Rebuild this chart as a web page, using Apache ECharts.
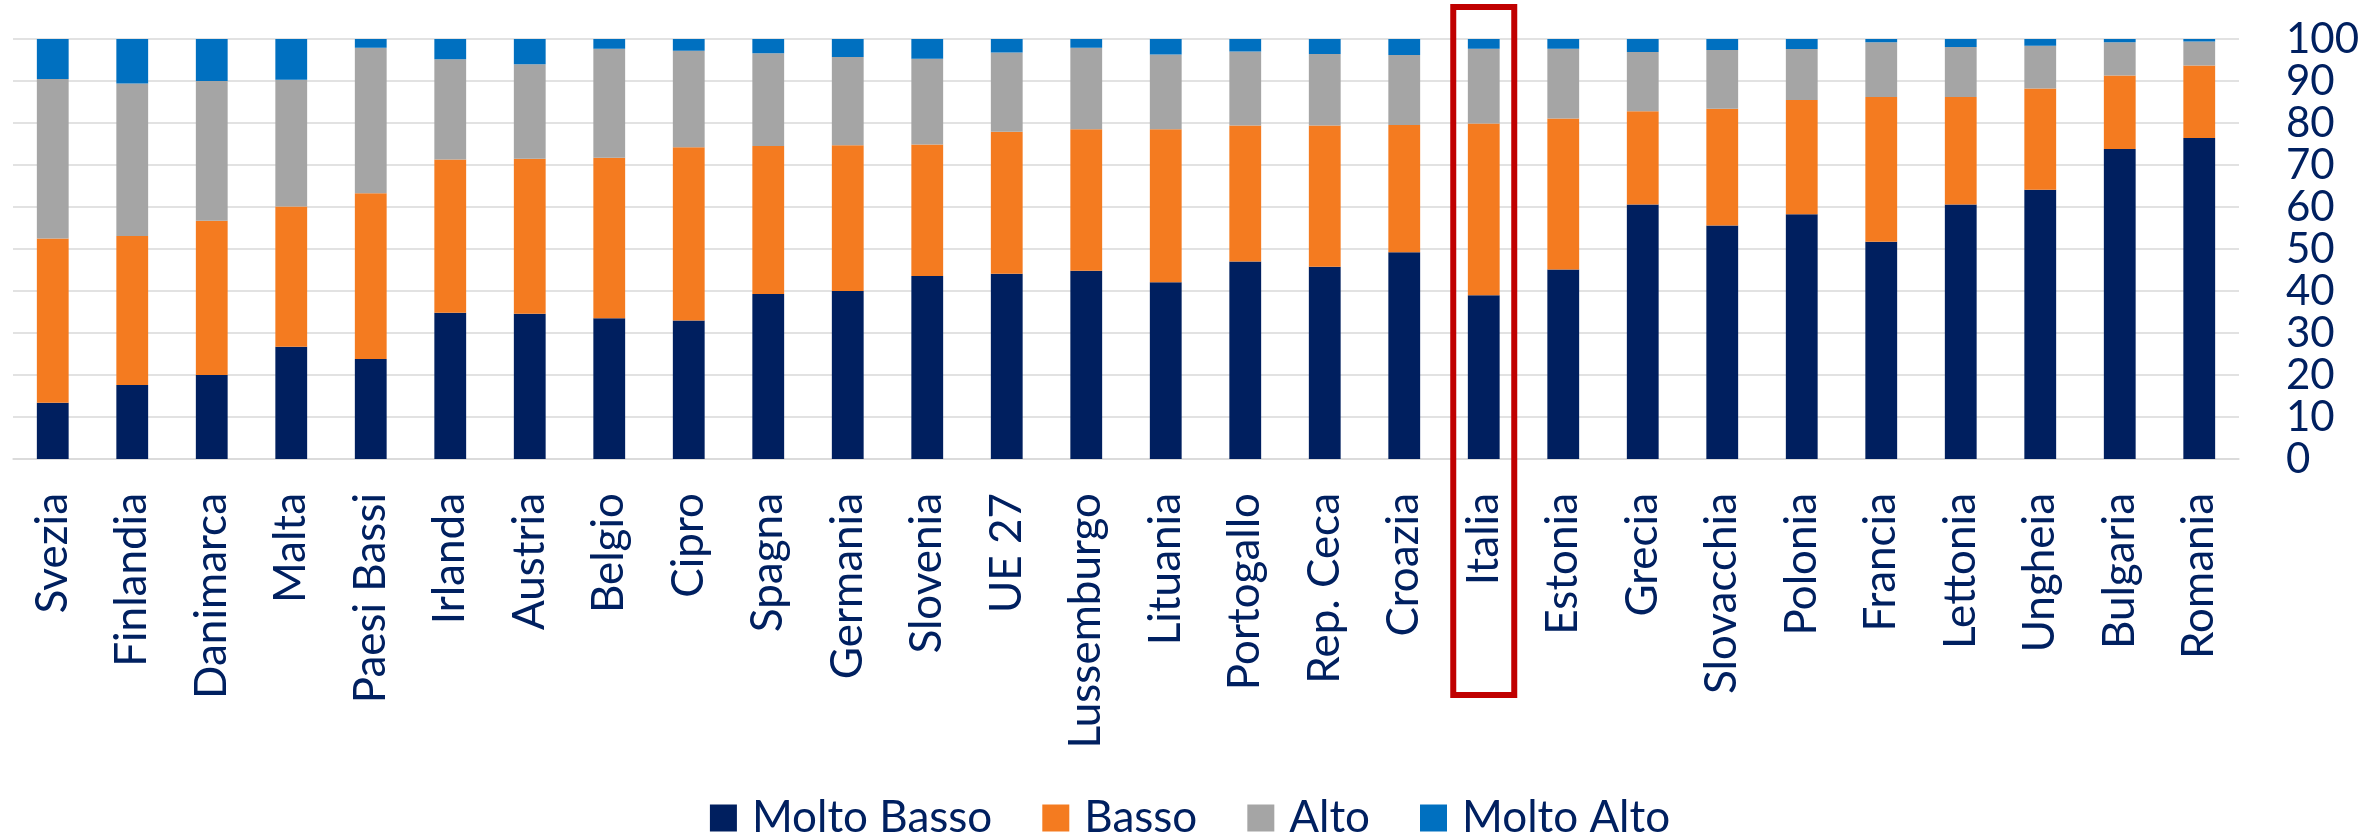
<!DOCTYPE html>
<html>
<head>
<meta charset="utf-8">
<script src="https://cdn.jsdelivr.net/npm/echarts@6/dist/echarts.min.js"></script>
<style>
  html, body { margin: 0; padding: 0; background: #ffffff; }
  #chart { width: 2380px; height: 836px; }
</style>
</head>
<body>
<div id="chart"></div>
<script>
// Paesi (ordinati per quota "Molto Basso") e UE 27
const categories = ['Svezia', 'Finlandia', 'Danimarca', 'Malta', 'Paesi Bassi', 'Irlanda', 'Austria',
  'Belgio', 'Cipro', 'Spagna', 'Germania', 'Slovenia', 'UE 27', 'Lussemburgo', 'Lituania',
  'Portogallo', 'Rep. Ceca', 'Croazia', 'Italia', 'Estonia', 'Grecia', 'Slovacchia', 'Polonia',
  'Francia', 'Lettonia', 'Ungheia', 'Bulgaria', 'Romania'];

const seriesNames = ['Molto Basso', 'Basso', 'Alto', 'Molto Alto'];

// Quote percentuali per livello
const moltoBasso = [13.4, 17.6, 20.0, 26.7, 23.8, 34.8, 34.6, 33.5, 33.0, 39.3, 40.0, 43.6, 44.1, 44.8,
  42.1, 47.0, 45.8, 49.2, 39.0, 45.1, 60.6, 55.6, 58.3, 51.7, 60.6, 64.1, 73.8, 76.4];
const basso = [39.1, 35.5, 36.7, 33.4, 39.5, 36.5, 36.9, 38.2, 41.2, 35.2, 34.7, 31.3, 33.8, 33.7,
  36.4, 32.4, 33.6, 30.3, 40.9, 36.0, 22.2, 27.8, 27.2, 34.5, 25.6, 24.1, 17.5, 17.3];
const alto = [38.0, 36.3, 33.3, 30.2, 34.6, 23.9, 22.5, 26.0, 23.0, 22.1, 21.0, 20.4, 18.9, 19.4,
  17.8, 17.6, 17.0, 16.7, 17.8, 16.6, 14.1, 14.0, 12.1, 13.0, 11.9, 10.2, 7.9, 5.7];
const moltoAlto = [9.5, 10.6, 10.0, 9.7, 2.1, 4.8, 6.0, 2.3, 2.8, 3.4, 4.3, 4.7, 3.2, 2.1,
  3.7, 3.0, 3.6, 3.8, 2.3, 2.3, 3.1, 2.6, 2.4, 0.8, 1.9, 1.6, 0.8, 0.6];

const yTicks = { min: 0, max: 100, interval: 10 };
const highlighted = 'Italia';

const colors = ['#001F5F', '#F47B20', '#A5A5A5', '#0070C0'];
const textColor = '#002060';
const gridColor = '#D9D9D9';
const font = 'Lato';

const chart = echarts.init(document.getElementById('chart'), null, { renderer: 'canvas' });

const values = [moltoBasso, basso, alto, moltoAlto];

chart.setOption({
  animation: false,
  backgroundColor: '#ffffff',
  color: colors,
  grid: { left: 13, right: 141, top: 39, bottom: 377, containLabel: false },
  legend: {
    data: seriesNames,
    left: 'center',
    top: 791,
    icon: 'rect',
    itemWidth: 27,
    itemHeight: 27,
    itemGap: 50,
    textStyle: { color: textColor, fontFamily: font, fontSize: 44, padding: [0, 0, 0, 10] }
  },
  xAxis: {
    type: 'category',
    data: categories,
    axisTick: { show: false },
    axisLine: { show: true, lineStyle: { color: gridColor, width: 1.5 } },
    axisLabel: {
      interval: 0,
      rotate: 90,
      margin: 34,
      color: textColor,
      fontFamily: font,
      fontSize: 44
    }
  },
  yAxis: {
    type: 'value',
    position: 'right',
    min: yTicks.min,
    max: yTicks.max,
    interval: yTicks.interval,
    axisLine: { show: false },
    axisTick: { show: false },
    splitLine: { lineStyle: { color: gridColor, width: 1.5 } },
    axisLabel: {
      margin: 47,
      color: textColor,
      fontFamily: font,
      fontSize: 42
    }
  },
  series: seriesNames.map((name, i) => ({
    name: name,
    type: 'bar',
    stack: 'livello',
    barCategoryGap: '60%',
    data: values[i],
    itemStyle: { color: colors[i] }
  }))
});

// Riquadro rosso attorno all'Italia, ancorato alla scala della categoria
const cx = chart.convertToPixel({ xAxisIndex: 0 }, highlighted);
const yTop = chart.convertToPixel({ yAxisIndex: 0 }, yTicks.max);
const yBase = chart.convertToPixel({ yAxisIndex: 0 }, yTicks.min);
const boxTop = yTop - 32;
const boxBottom = yBase + 236;
chart.setOption({
  graphic: [{
    type: 'rect',
    z: 100,
    shape: { x: cx - 30.5, y: boxTop, width: 61, height: boxBottom - boxTop },
    style: { fill: 'none', stroke: '#C00000', lineWidth: 6 }
  }]
});
</script>
</body>
</html>
